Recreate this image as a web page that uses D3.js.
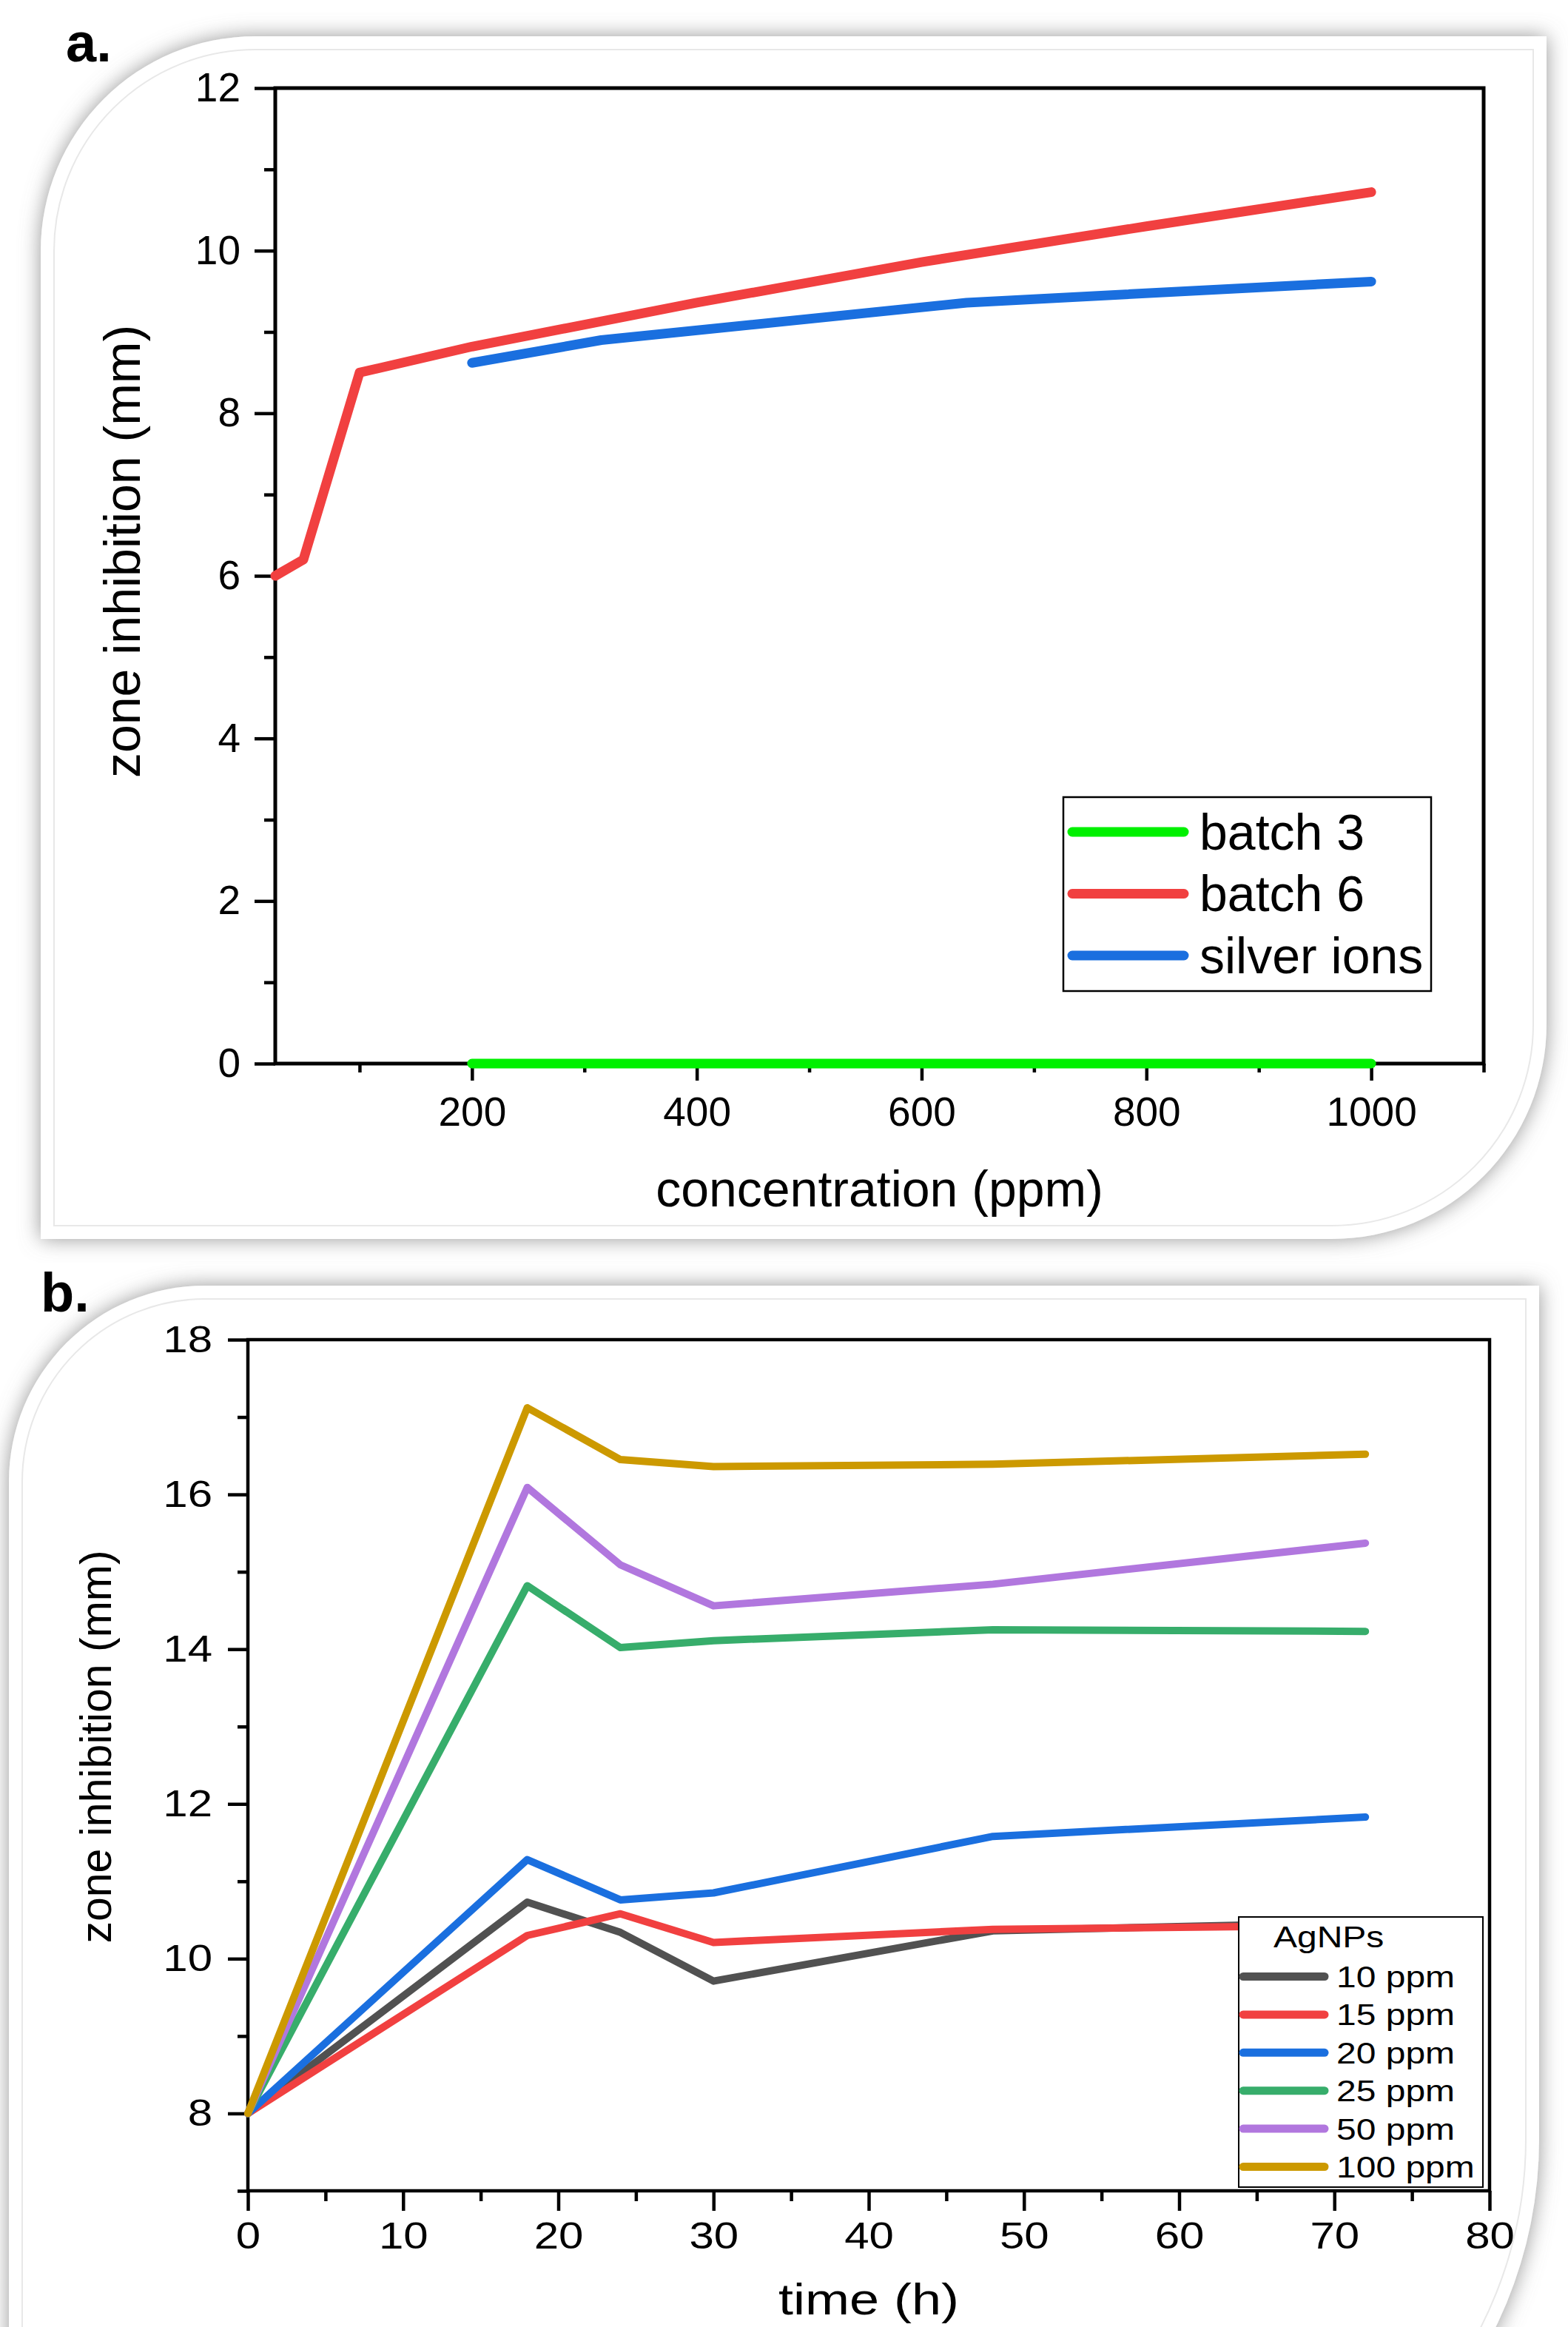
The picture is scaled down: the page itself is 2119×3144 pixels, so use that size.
<!DOCTYPE html>
<html>
<head>
<meta charset="utf-8">
<script src="https://cdn.jsdelivr.net/npm/d3@7"></script>
<style>
  body { margin: 0; background: #fff; }
  svg text { font-family: "Liberation Sans", Arial, sans-serif; fill: #000; }
</style>
</head>
<body>
<svg id="fig" width="2119" height="3144"></svg>
<script>
// ---- panel a data: zone inhibition vs concentration
let batch3X = [200, 315, 400, 640, 1000]
let batch3Y = [0, 0, 0, 0, 0]
let batch6X = [25, 50, 100, 200, 400, 600, 800, 1000]
let batch6Y = [6.0, 6.2, 8.5, 8.82, 9.36, 9.86, 10.3, 10.72]
let silverX = [200, 315, 640, 1000]
let silverY = [8.62, 8.9, 9.36, 9.62]
let seriesA = ['batch 3', 'batch 6', 'silver ions']
let colorsA = ['#00f000', '#f14040', '#1a6fdf']
let xTicksA = [200, 400, 600, 800, 1000]
let xMinorA = [100, 300, 500, 700, 900, 1100]
let yTicksA = [0, 2, 4, 6, 8, 10, 12]
let yMinorA = [1, 3, 5, 7, 9, 11]

// ---- panel b data: zone inhibition vs time
let timeH = [0, 18, 24, 30, 48, 72]
let ppm10 = [8, 10.73, 10.34, 9.71, 10.36, 10.47]
let ppm15 = [8, 10.30, 10.58, 10.21, 10.38, 10.43]
let ppm20 = [8, 11.28, 10.76, 10.85, 11.58, 11.83]
let ppm25 = [8, 14.82, 14.02, 14.11, 14.25, 14.23]
let ppm50 = [8, 16.09, 15.09, 14.56, 14.84, 15.37]
let ppm100 = [8, 17.12, 16.45, 16.36, 16.39, 16.52]
let seriesB = ['10 ppm', '15 ppm', '20 ppm', '25 ppm', '50 ppm', '100 ppm']
let colorsB = ['#515151', '#f14040', '#1a6fdf', '#37ad6b', '#b177de', '#cc9900']
let xTicksB = [0, 10, 20, 30, 40, 50, 60, 70, 80]
let xMinorB = [5, 15, 25, 35, 45, 55, 65, 75]
let yTicksB = [8, 10, 12, 14, 16, 18]
let yMinorB = [7, 9, 11, 13, 15, 17]

let svg = d3.select('#fig')

svg.append('rect').attr('width', 2119).attr('height', 3144).attr('fill', '#fff')

let defs = svg.append('defs')
defs.append('filter')
    .attr('id', 'shadow')
    .attr('x', '-10%').attr('y', '-10%').attr('width', '120%').attr('height', '120%')
  .append('feDropShadow')
    .attr('dx', 0).attr('dy', 0)
    .attr('stdDeviation', 14)
    .attr('flood-color', '#8a8a8a')
    .attr('flood-opacity', 0.9)

// rounded-diagonal card behind each panel
function cardPath(x0, y0, x1, y1, r1, r2) {
  return 'M' + (x0 + r1) + ',' + y0 + 'H' + x1 + 'V' + (y1 - r2) +
    'A' + r2 + ',' + r2 + ' 0 0 1 ' + (x1 - r2) + ',' + y1 +
    'H' + x0 + 'V' + (y0 + r1) +
    'A' + r1 + ',' + r1 + ' 0 0 1 ' + (x0 + r1) + ',' + y0 + 'Z'
}

function card(x0, y0, x1, y1, r1, r2) {
  svg.append('path')
    .attr('d', cardPath(x0, y0, x1, y1, r1, r2))
    .attr('fill', '#fff')
    .attr('filter', 'url(#shadow)')
  svg.append('path')
    .attr('d', cardPath(x0 + 18, y0 + 18, x1 - 18, y1 - 18, r1 - 18, r2 - 18))
    .attr('fill', 'none')
    .attr('stroke', '#e8e8e8')
    .attr('stroke-width', 2)
}

card(55, 49, 2090, 1674, 290, 290)
card(12, 1737, 2080, 3470, 265, 580)

function styleAxis(g, width) {
  g.select('.domain').remove()
  g.selectAll('line').attr('stroke', '#000').attr('stroke-width', width)
}

function pts(xs, ys) { return xs.map((d, i) => [d, ys[i]]) }

// ================= panel a =================
let xA = d3.scaleLinear().domain([25, 1100]).range([372, 2005])
let yA = d3.scaleLinear().domain([0, 12]).range([1437, 119])

let gA = svg.append('g')

gA.append('g')
  .attr('transform', 'translate(0,1437)')
  .call(d3.axisBottom(xA).tickValues(xMinorA).tickSize(12).tickSizeOuter(0).tickFormat(''))
  .call(g => styleAxis(g, 4.5))

gA.append('g')
  .attr('transform', 'translate(0,1437)')
  .call(d3.axisBottom(xA).tickValues(xTicksA).tickSize(23).tickPadding(22).tickSizeOuter(0).tickFormat(d3.format('d')))
  .call(g => styleAxis(g, 4.5))
  .selectAll('text')
    .attr('font-size', 55)
    .attr('font-family', '"Liberation Sans", Arial, sans-serif')
    .attr('fill', '#000')

gA.append('g')
  .attr('transform', 'translate(372,0)')
  .call(d3.axisLeft(yA).tickValues(yMinorA).tickSize(15).tickSizeOuter(0).tickFormat(''))
  .call(g => styleAxis(g, 4.5))

gA.append('g')
  .attr('transform', 'translate(372,0)')
  .call(d3.axisLeft(yA).tickValues(yTicksA).tickSize(28).tickPadding(19).tickSizeOuter(0))
  .call(g => styleAxis(g, 4.5))
  .selectAll('text')
    .attr('font-size', 55)
    .attr('font-family', '"Liberation Sans", Arial, sans-serif')
    .attr('fill', '#000')

gA.append('rect')
  .attr('x', xA(25)).attr('y', yA(12))
  .attr('width', xA(1100) - xA(25)).attr('height', yA(0) - yA(12))
  .attr('fill', 'none').attr('stroke', '#000').attr('stroke-width', 5)

let lineA = d3.line().x(d => xA(d[0])).y(d => yA(d[1]))
let dataA = [pts(batch3X, batch3Y), pts(batch6X, batch6Y), pts(silverX, silverY)]

gA.selectAll('.lineA')
  .data(dataA)
  .enter()
  .append('path')
  .attr('class', 'lineA')
  .attr('d', lineA)
  .attr('fill', 'none')
  .attr('stroke', (d, i) => colorsA[i])
  .attr('stroke-width', 13)
  .attr('stroke-linecap', 'round')
  .attr('stroke-linejoin', 'round')

// legend a
let legA = gA.append('g')
legA.append('rect')
  .attr('x', 1437).attr('y', 1077).attr('width', 497).attr('height', 262)
  .attr('fill', '#fff').attr('stroke', '#000').attr('stroke-width', 2.5)
seriesA.forEach((name, i) => {
  let yy = 1124 + i * 83.5
  legA.append('line')
    .attr('x1', 1449).attr('x2', 1600).attr('y1', yy).attr('y2', yy)
    .attr('stroke', colorsA[i]).attr('stroke-width', 13).attr('stroke-linecap', 'round')
  legA.append('text')
    .attr('x', 1621).attr('y', yy).attr('dy', '0.35em')
    .attr('font-size', 68)
    .text(name)
})

gA.append('text')
  .attr('x', xA(25) + (xA(1100) - xA(25)) / 2).attr('y', 1630)
  .attr('text-anchor', 'middle').attr('font-size', 68)
  .text('concentration (ppm)')

gA.append('text')
  .attr('transform', 'translate(189,745) rotate(-90)')
  .attr('text-anchor', 'middle').attr('font-size', 68)
  .text('zone inhibition (mm)')

svg.append('text')
  .attr('x', 89).attr('y', 83)
  .attr('font-size', 74).attr('font-weight', 'bold')
  .text('a.')

// ================= panel b =================
let sx = 1.2
let xB = d3.scaleLinear().domain([0, 80]).range([335, 2013])
let yB = d3.scaleLinear().domain([7, 18]).range([2960, 1810])

let gB = svg.append('g')

gB.append('g')
  .attr('transform', 'translate(0,2960)')
  .call(d3.axisBottom(xB).tickValues(xMinorB).tickSize(14).tickSizeOuter(0).tickFormat(''))
  .call(g => styleAxis(g, 4.5))

gB.append('g')
  .attr('transform', 'translate(0,2960)')
  .call(d3.axisBottom(xB).tickValues(xTicksB).tickSize(27).tickPadding(16).tickSizeOuter(0))
  .call(g => styleAxis(g, 4.5))
  .selectAll('text')
    .attr('font-size', 50)
    .attr('font-family', '"Liberation Sans", Arial, sans-serif')
    .attr('fill', '#000')
    .attr('transform', 'scale(' + sx + ',1)')

gB.append('g')
  .attr('transform', 'translate(335,0)')
  .call(d3.axisLeft(yB).tickValues(yMinorB).tickSize(14).tickSizeOuter(0).tickFormat(''))
  .call(g => styleAxis(g, 4.5))

gB.append('g')
  .attr('transform', 'translate(335,0)')
  .call(d3.axisLeft(yB).tickValues(yTicksB).tickSize(27).tickPadding(21).tickSizeOuter(0))
  .call(g => styleAxis(g, 4.5))
  .selectAll('text')
    .attr('font-size', 50)
    .attr('font-family', '"Liberation Sans", Arial, sans-serif')
    .attr('fill', '#000')
    .attr('x', -48 / sx)
    .attr('transform', 'scale(' + sx + ',1)')

gB.append('rect')
  .attr('x', xB(0)).attr('y', yB(18))
  .attr('width', xB(80) - xB(0)).attr('height', yB(7) - yB(18))
  .attr('fill', 'none').attr('stroke', '#000').attr('stroke-width', 4.5)

let lineB = d3.line().x(d => xB(d[0])).y(d => yB(d[1]))
let dataB = [ppm10, ppm15, ppm20, ppm25, ppm50, ppm100].map(v => pts(timeH, v))

gB.selectAll('.lineB')
  .data(dataB)
  .enter()
  .append('path')
  .attr('class', 'lineB')
  .attr('d', lineB)
  .attr('fill', 'none')
  .attr('stroke', (d, i) => colorsB[i])
  .attr('stroke-width', 10)
  .attr('stroke-linecap', 'round')
  .attr('stroke-linejoin', 'round')

// legend b
let legB = gB.append('g')
legB.append('rect')
  .attr('x', 1674).attr('y', 2590).attr('width', 330).attr('height', 365)
  .attr('fill', '#fff').attr('stroke', '#000').attr('stroke-width', 2)
legB.append('text')
  .attr('transform', 'translate(1721,2631) scale(' + sx + ',1)')
  .attr('font-size', 40)
  .text('AgNPs')
seriesB.forEach((name, i) => {
  let yy = 2670.5 + i * 51.4
  legB.append('line')
    .attr('x1', 1680).attr('x2', 1790).attr('y1', yy).attr('y2', yy)
    .attr('stroke', colorsB[i]).attr('stroke-width', 11).attr('stroke-linecap', 'round')
  legB.append('text')
    .attr('transform', 'translate(1806,' + yy + ') scale(' + sx + ',1)')
    .attr('dy', '0.36em')
    .attr('font-size', 40)
    .text(name)
})

gB.append('text')
  .attr('transform', 'translate(' + ((xB(0) + xB(80)) / 2) + ',3127) scale(' + sx + ',1)')
  .attr('text-anchor', 'middle').attr('font-size', 60)
  .text('time (h)')

gB.append('text')
  .attr('transform', 'translate(150,2360) rotate(-90)')
  .attr('text-anchor', 'middle').attr('font-size', 59)
  .text('zone inhibition (mm)')

svg.append('text')
  .attr('x', 55).attr('y', 1772)
  .attr('font-size', 74).attr('font-weight', 'bold')
  .text('b.')
</script>
</body>
</html>
